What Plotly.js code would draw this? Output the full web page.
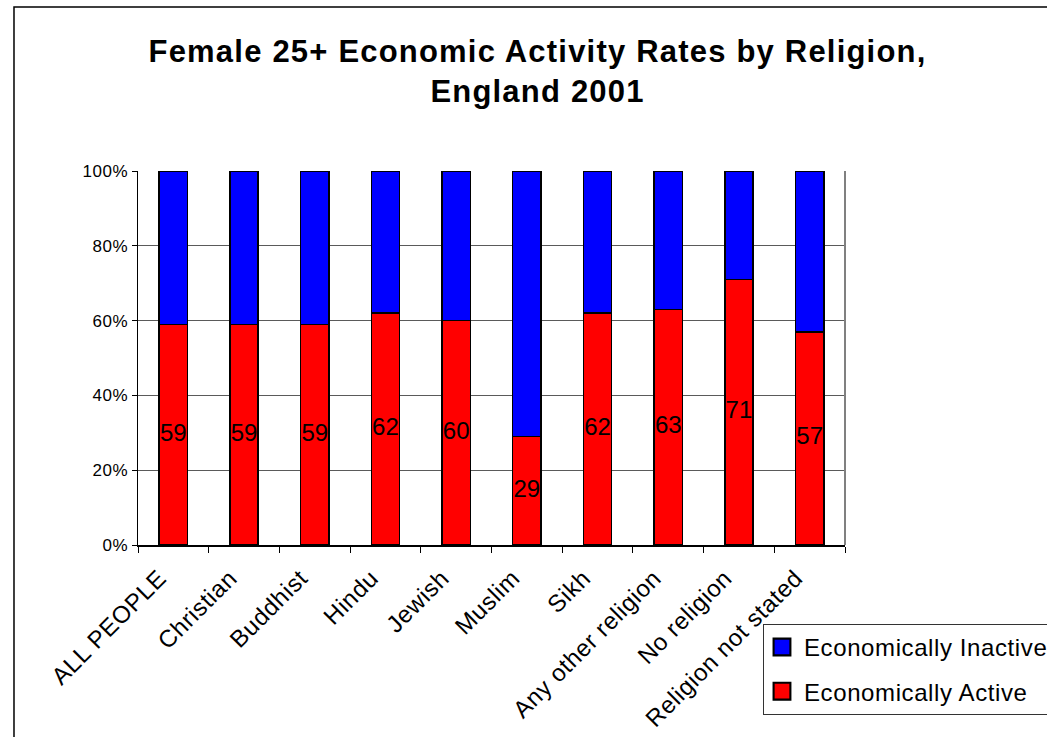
<!DOCTYPE html>
<html>
<head>
<meta charset="utf-8">
<script src="https://cdn.plot.ly/plotly-3.0.1.min.js"></script>
<style>
  html, body { margin: 0; padding: 0; background: #ffffff; }
  #chart { width: 1047px; height: 737px; }
  .gtitle { letter-spacing: 1.2px; }
  .legendtext { letter-spacing: 0.6px; }
  .legendpoints path { transform: translate(18px, 0px) scale(1.4); }
  .xtick text { letter-spacing: 0.6px; }
  .ytick text { letter-spacing: 0.5px; }
</style>
</head>
<body>
<div id="chart"></div>
<script>
// Female 25+ economic activity by religion, England 2001 (percent of group)
const categories = ['ALL PEOPLE', 'Christian', 'Buddhist', 'Hindu', 'Jewish', 'Muslim',
                    'Sikh', 'Any other religion', 'No religion', 'Religion not stated'];
const activeRates   = [59, 59, 59, 62, 60, 29, 62, 63, 71, 57];
const inactiveRates = [41, 41, 41, 38, 40, 71, 38, 37, 29, 43];
const yTickValues = [0, 20, 40, 60, 80, 100];

const FONT = 'Arial, "Liberation Sans", sans-serif';

const activeTrace = {
  type: 'bar',
  name: 'Economically Active',
  legendgroup: 'active',
  legendrank: 2,
  x: categories,
  y: activeRates,
  marker: { color: '#ff0000', line: { color: '#000000', width: 1.5 } },
  hoverinfo: 'skip'
};

const inactiveTrace = {
  type: 'bar',
  name: 'Economically Inactive',
  legendgroup: 'inactive',
  legendrank: 1,
  x: categories,
  y: inactiveRates,
  marker: { color: '#0000ff', line: { color: '#000000', width: 1.5 } },
  hoverinfo: 'skip'
};

// value labels sit at the middle of each red segment
const labelTrace = {
  type: 'scatter',
  mode: 'text',
  x: categories,
  y: activeRates.map(v => v / 2),
  text: activeRates.map(v => String(v)),
  textposition: 'middle center',
  textfont: { family: FONT, size: 24, color: '#000000' },
  showlegend: false,
  hoverinfo: 'skip'
};

const layout = {
  width: 1047,
  height: 737,
  paper_bgcolor: '#ffffff',
  plot_bgcolor: '#ffffff',
  font: { family: FONT, color: '#000000' },
  margin: { l: 138, r: 202, t: 171, b: 192, autoexpand: false },
  barmode: 'stack',
  bargap: 0.6,
  showlegend: true,
  title: {
    text: 'Female 25+ Economic Activity Rates by Religion,<br>England 2001',
    font: { family: FONT, size: 31, color: '#000000', weight: 'bold' },
    xref: 'container', x: 0.5134, xanchor: 'center',
    yref: 'container', y: 0.916, yanchor: 'top'
  },
  xaxis: {
    type: 'category',
    showgrid: false,
    showline: true, linecolor: '#000000', linewidth: 1.5,
    ticks: 'outside', tickson: 'boundaries', ticklen: 6, tickcolor: '#000000', tickwidth: 1,
    tickangle: -45,
    ticklabelshift: -14,
    ticklabelstandoff: 8,
    tickfont: { family: FONT, size: 24, color: '#000000' },
    zeroline: false,
    fixedrange: true
  },
  yaxis: {
    range: [0, 100],
    tickvals: yTickValues,
    ticktext: yTickValues.map(v => v + '%'),
    showgrid: true, gridcolor: '#5a5a5a', gridwidth: 1,
    showline: true, linecolor: '#000000', linewidth: 1.5,
    ticks: 'outside', ticklen: 5, tickcolor: '#000000', tickwidth: 1,
    tickfont: { family: FONT, size: 17, color: '#000000' },
    zeroline: false,
    fixedrange: true
  },
  legend: {
    x: 0.884, xanchor: 'left',
    y: -0.211, yanchor: 'top',
    traceorder: 'grouped',
    tracegroupgap: 10,
    bgcolor: '#ffffff',
    bordercolor: '#333333', borderwidth: 1,
    font: { family: FONT, size: 24, color: '#000000' }
  },
  shapes: [
    // right edge of the plot area
    { type: 'line', xref: 'paper', yref: 'paper', x0: 1, x1: 1, y0: 0, y1: 1,
      line: { color: '#808080', width: 2 } },
    // outer chart frame
    { type: 'rect', xref: 'paper', yref: 'paper', x0: -0.1754, x1: 1.5, y0: -0.6, y1: 1.4385,
      line: { color: '#000000', width: 1.5 }, fillcolor: 'rgba(0,0,0,0)' }
  ]
};

Plotly.newPlot('chart', [activeTrace, inactiveTrace, labelTrace], layout,
  { displayModeBar: false, staticPlot: true });
</script>
</body>
</html>
